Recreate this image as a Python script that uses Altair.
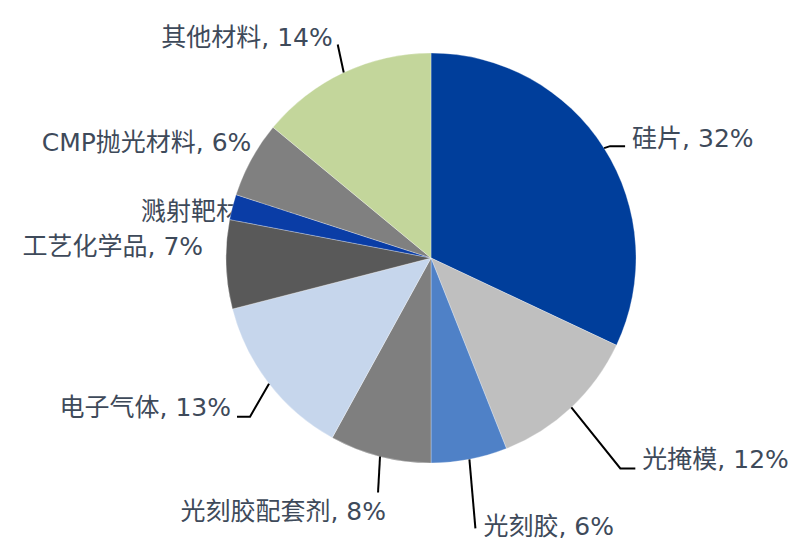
import math
import altair as alt
import pandas as pd

# ---- data ----
categories = ["硅片", "光掩模", "光刻胶", "光刻胶配套剂", "电子气体",
              "工艺化学品", "溅射靶材", "CMP抛光材料", "其他材料"]
shares = [32, 12, 6, 8, 13, 7, 2, 6, 14]
colors = ["#003E9B", "#BFBFBF", "#4F81C7", "#7F7F7F", "#C6D6EC",
          "#595959", "#0A3DA6", "#808080", "#C3D69B"]

# ---- layout (chart pixel space) ----
W, H = 784, 535
CX, CY, R = 423, 250, 205
FONT = "DejaVu Sans, Noto Sans CJK SC"
TEXT_COLOR = "#3E4A5A"

# label offset from slice edge point (dx, dy, align) and leader bends
label_layout = {
    "硅片": ((28, -9, "left"), [(6, -2), (21, -2)]),
    "光掩模": ((71, 53, "left"), [(49, 61), (64, 61)]),
    "光刻胶": ((14, 68, "left"), [(6, 69)]),
    "光刻胶配套剂": ((6, 55, "right"), [(-2, 36)]),
    "电子气体": ((-38, 24, "right"), [(-19, 33), (-32, 33)]),
    "工艺化学品": ((-23, -17, "right"), []),
    "溅射靶材": ((64, 5, "right"), []),
    "CMP抛光材料": ((0, -16, "right"), []),
    "其他材料": ((-11, -35, "right"), [(-6, -28)]),
}

total = sum(shares)
pie_rows, label_rows, leader_rows = [], [], []
cum = 0
for i, (c, v, col) in enumerate(zip(categories, shares, colors)):
    a0 = cum / total * 2 * math.pi
    cum += v
    a1 = cum / total * 2 * math.pi
    mid = (a0 + a1) / 2
    ex, ey = CX + R * math.sin(mid), CY - R * math.cos(mid)
    pie_rows.append({"cat": c, "share": v, "idx": i})
    (dx, dy, align), bends = label_layout[c]
    label_rows.append({"cat": c, "text": f"{c}, {v}%", "x": ex + dx, "y": ey + dy,
                       "align": align})
    if bends:
        leader_rows.append({"cat": c, "k": 0, "x": ex, "y": ey})
        for k, (bx, by) in enumerate(bends, start=1):
            leader_rows.append({"cat": c, "k": k, "x": ex + bx, "y": ey + by})

pie_df = pd.DataFrame(pie_rows)
lab_df = pd.DataFrame(label_rows)
lead_df = pd.DataFrame(leader_rows)

color_scale = alt.Scale(domain=categories, range=colors)

pie = alt.Chart(pie_df).mark_arc(radius=R, stroke="#ffffff", strokeWidth=0.3).encode(
    theta=alt.Theta("share:Q", stack=True),
    order=alt.Order("idx:Q"),
    color=alt.Color("cat:N", scale=color_scale, legend=None),
    x=alt.value(CX),
    y=alt.value(CY),
)

leaders = alt.Chart(lead_df).mark_line(color="#000000", strokeWidth=2).encode(
    x=alt.X("x:Q", scale=None, axis=None),
    y=alt.Y("y:Q", scale=None, axis=None),
    detail="cat:N",
    order="k:Q",
)


def text_layer(df, align):
    return alt.Chart(df).mark_text(
        align=align, baseline="middle", font=FONT, fontSize=25, color=TEXT_COLOR
    ).encode(
        x=alt.X("x:Q", scale=None, axis=None),
        y=alt.Y("y:Q", scale=None, axis=None),
        text="text:N",
    )


under = lab_df[lab_df["cat"] == "溅射靶材"]
over = lab_df[lab_df["cat"] != "溅射靶材"]

chart = alt.layer(
    text_layer(under, "right"),
    pie,
    leaders,
    text_layer(over[over["align"] == "left"], "left"),
    text_layer(over[over["align"] == "right"], "right"),
).properties(
    width=W, height=H, padding=0, autosize=alt.AutoSizeParams(type="none"),
    background="#ffffff",
).configure_view(stroke=None)

chart.save("out.html", embed_options={"renderer": "svg", "actions": False})
